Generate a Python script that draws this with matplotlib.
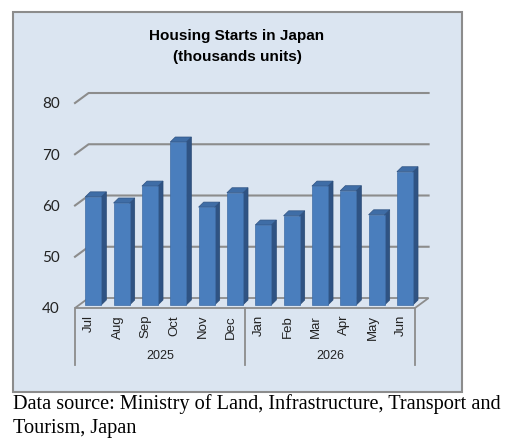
import matplotlib
matplotlib.use("Agg")
import matplotlib.pyplot as plt
from matplotlib.patches import Rectangle, Polygon

# housing starts, thousands of units
months = ["Jul", "Aug", "Sep", "Oct", "Nov", "Dec",
          "Jan", "Feb", "Mar", "Apr", "May", "Jun"]
years = ["2025", "2026"]
starts = [61.1, 59.9, 63.2, 71.8, 59.1, 61.9,
          55.6, 57.4, 63.2, 62.3, 57.6, 66.0]
yticks = [40, 50, 60, 70, 80]

W, H = 511, 445
fig = plt.figure(figsize=(W / 100, H / 100), dpi=100)
fig.patch.set_facecolor("white")

# chart panel
fig.patches.append(Rectangle((13 / W, 1 - 392 / H), 449 / W, 380 / H,
                             transform=fig.transFigure, facecolor="#DBE5F1",
                             edgecolor="#8C8C8C", linewidth=1.5, zorder=-5))

# front plane of the 3d plot
ax = fig.add_axes([75 / W, 1 - 308 / H, 340 / W, 205 / H])
ax.set_zorder(2)
ax.set_xlim(-0.5, len(months) - 0.5)
ax.set_ylim(40, 80)
ax.patch.set_alpha(0)
for s in ax.spines.values():
    s.set_visible(False)

# depth offsets (wall) and bar depth, in data units
DX, DY = 0.48, 1.95
f0 = 0.3
bw = 0.565
bx, by = 0.18, 0.98
x0, x1 = -0.5, len(months) - 0.5
grid_c = "#8C8C8C"

# floor
ax.add_patch(Polygon([(x0, 40), (x1, 40), (x1 + DX, 40 + DY), (x0 + DX, 40 + DY)],
                     closed=True, facecolor="none", edgecolor=grid_c,
                     linewidth=1.3, clip_on=False, zorder=1))
# gridlines on the back wall
for v in yticks[1:]:
    ax.plot([x0, x0 + DX, x1 + DX], [v, v + DY, v + DY], color=grid_c,
            linewidth=1.5, clip_on=False, zorder=1)

# 3d bars
for i, v in enumerate(starts):
    left = i - bw / 2 + f0 * DX
    right = left + bw
    base = 40 + f0 * DY
    top = v + f0 * DY
    ax.add_patch(Polygon([(right, base), (right + bx, base + by),
                          (right + bx, top + by), (right, top)],
                         closed=True, facecolor="#2F5383", edgecolor="#2A4B76",
                         linewidth=0.5, clip_on=False, zorder=3))
    ax.add_patch(Polygon([(left, top), (right, top), (right + bx, top + by),
                          (left + bx, top + by)],
                         closed=True, facecolor="#3F6DA6", edgecolor="#2F5383",
                         linewidth=0.5, clip_on=False, zorder=3))
    ax.add_patch(Rectangle((left, base), bw, top - base, facecolor="#4A7EBD",
                           edgecolor="#3F6DA6", linewidth=0.5,
                           clip_on=False, zorder=3))

# y axis
ax.set_yticks(yticks)
ax.set_yticklabels([str(t) for t in yticks], fontsize=11, family="Lato",
                   color="#222222")
ax.tick_params(axis="y", length=0, pad=11)

# month labels
ax.set_xticks(range(len(months)))
ax.set_xticklabels(months, rotation=90, fontsize=9.5, family="Liberation Sans",
                   va="top", color="#222222")
ax.tick_params(axis="x", length=0, pad=5)

# year grouping
tr = ax.get_xaxis_transform()
for xb in [x0, 5.5, x1]:
    ax.plot([xb, xb], [0, -0.278], color=grid_c, linewidth=1.3,
            transform=tr, clip_on=False)
for k, yr in enumerate(years):
    ax.text(2.5 + 6 * k, -0.235, yr, transform=tr, ha="center", va="center",
            fontsize=9, family="Liberation Sans", color="#222222")

# title
fig.text(237 / W, 1 - 36 / H, "Housing Starts in Japan", ha="center",
         va="center", fontsize=11, fontweight="bold", family="Liberation Sans")
fig.text(237 / W, 1 - 57 / H, "(thousands units)", ha="center",
         va="center", fontsize=11, fontweight="bold", family="Liberation Sans")

# source note
fig.text(13 / W, 1 - 404 / H,
         "Data source: Ministry of Land, Infrastructure, Transport and",
         ha="left", va="center", fontsize=14.6, family="Liberation Serif")
fig.text(13 / W, 1 - 428 / H, "Tourism, Japan", ha="left", va="center",
         fontsize=14.6, family="Liberation Serif")

fig.savefig("out.png", dpi=100)
